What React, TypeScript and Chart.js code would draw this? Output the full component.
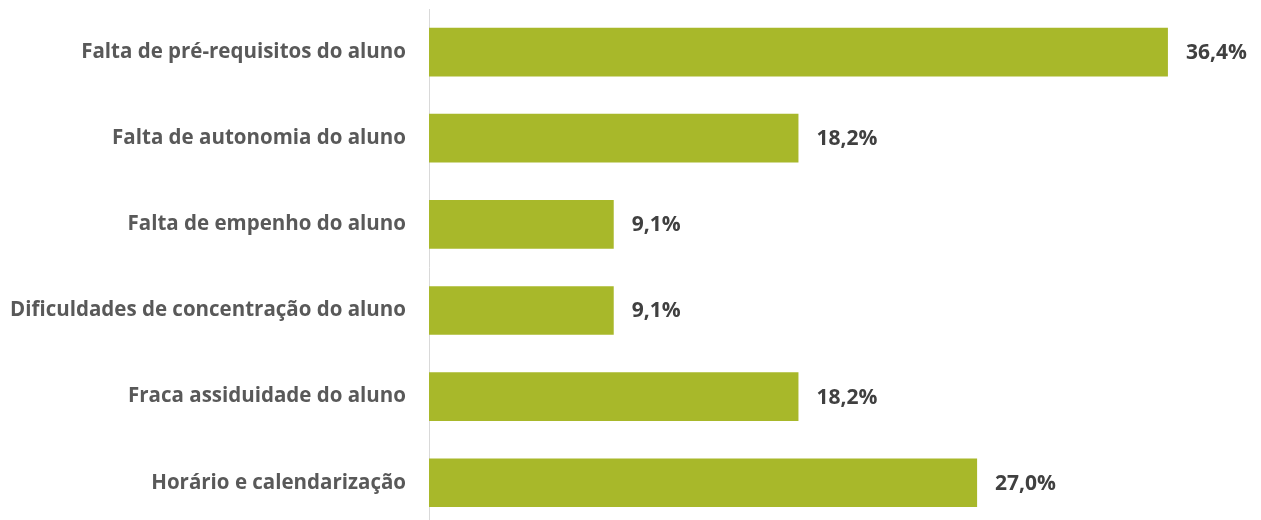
import React, { useEffect, useRef } from "react";
import { Chart, registerables } from "chart.js";

Chart.register(...registerables);

const categories = [
  "Falta de pré-requisitos do aluno",
  "Falta de autonomia do aluno",
  "Falta de empenho do aluno",
  "Dificuldades de concentração do aluno",
  "Fraca assiduidade do aluno",
  "Horário e calendarização",
];
const values = [36.4, 18.2, 9.1, 9.1, 18.2, 27.0];
const xMax = 40;

const FONT = "'Open Sans', 'Noto Sans', sans-serif";

const valueLabels = {
  id: "valueLabels",
  afterDatasetsDraw(chart: any) {
    const ctx = chart.ctx;
    const meta = chart.getDatasetMeta(0);
    ctx.save();
    ctx.fillStyle = "#404040";
    ctx.font = `bold 21px ${FONT}`;
    ctx.textAlign = "left";
    ctx.textBaseline = "middle";
    meta.data.forEach((bar: any, i: number) => {
      const txt = values[i].toFixed(1).replace(".", ",") + "%";
      ctx.fillText(txt, bar.x + 18, bar.y + 1);
    });
    ctx.restore();
  },
};

export default function App() {
  const ref = useRef<HTMLCanvasElement>(null);
  useEffect(() => {
    if (!ref.current) return;
    const chart = new Chart(ref.current, {
      type: "bar",
      data: {
        labels: categories,
        datasets: [
          {
            data: values,
            backgroundColor: "#A8B82A",
            borderWidth: 0,
            categoryPercentage: 1,
            barPercentage: 0.565,
          },
        ],
      },
      options: {
        indexAxis: "y",
        animation: false,
        responsive: false,
        maintainAspectRatio: false,
        layout: { padding: { top: 9, bottom: 4, right: 20, left: 0 } },
        plugins: { legend: { display: false }, tooltip: { enabled: false } },
        scales: {
          x: { display: false, min: 0, max: xMax },
          y: {
            afterFit: (scale: any) => {
              scale.width = 429;
            },
            grid: {
              display: true,
              drawOnChartArea: false,
              drawTicks: true,
              tickLength: 23,
              tickColor: "rgba(0,0,0,0)",
            },
            border: { display: true, color: "#D9D9D9", width: 1 },
            ticks: {
              color: "#595959",
              padding: 0,
              font: { family: FONT, size: 20.5, weight: "bold", lineHeight: 0.8 },
            },
          },
        },
      },
      plugins: [valueLabels],
    });
    return () => chart.destroy();
  }, []);
  return (
    <div style={{ position: "absolute", left: 0, top: 0, width: 1261, height: 534 }}>
      <canvas ref={ref} width={1261} height={534} />
    </div>
  );
}
